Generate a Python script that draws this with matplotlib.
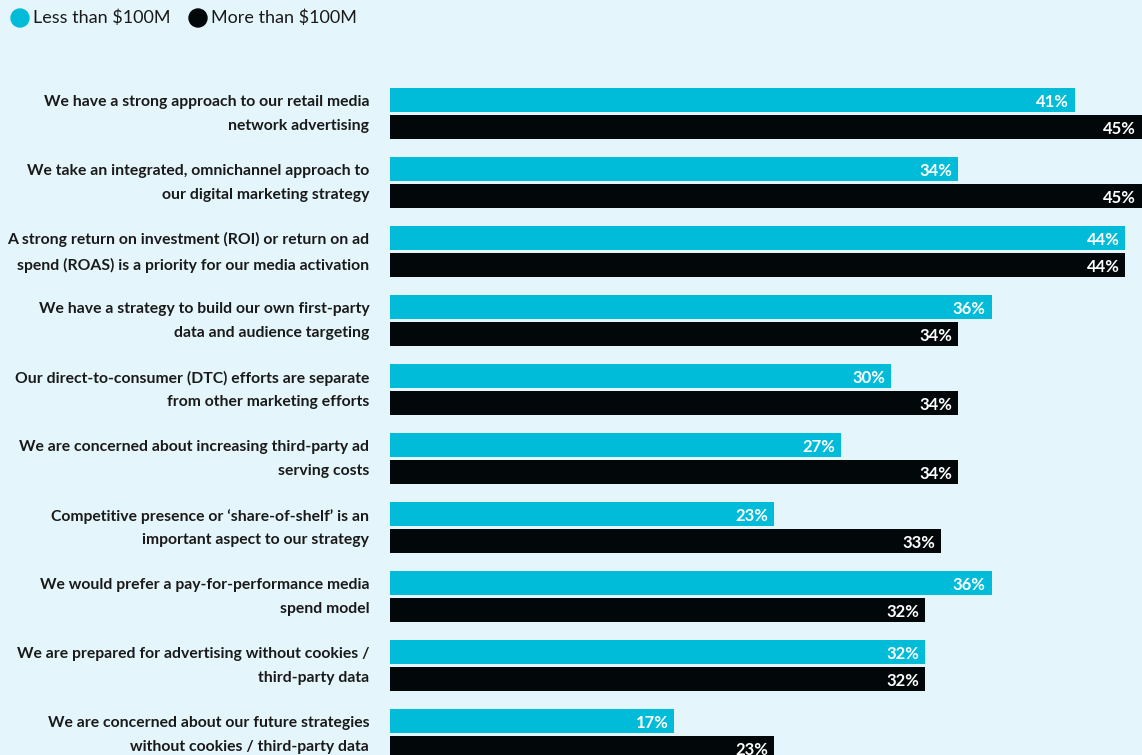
import matplotlib.pyplot as plt
from matplotlib.patches import Ellipse
import numpy as np

statements = [
    "We have a strong approach to our retail media\nnetwork advertising",
    "We take an integrated, omnichannel approach to\nour digital marketing strategy",
    "A strong return on investment (ROI) or return on ad\nspend (ROAS) is a priority for our media activation",
    "We have a strategy to build our own first-party\ndata and audience targeting",
    "Our direct-to-consumer (DTC) efforts are separate\nfrom other marketing efforts",
    "We are concerned about increasing third-party ad\nserving costs",
    "Competitive presence or \u2018share-of-shelf\u2019 is an\nimportant aspect to our strategy",
    "We would prefer a pay-for-performance media\nspend model",
    "We are prepared for advertising without cookies /\nthird-party data",
    "We are concerned about our future strategies\nwithout cookies / third-party data",
]
less_100m = [41, 34, 44, 36, 30, 27, 23, 36, 32, 17]
more_100m = [45, 45, 44, 34, 34, 34, 33, 32, 32, 23]
series_names = ["Less than $100M", "More than $100M"]

BG = "#e4f6fb"
CYAN = "#00bcd8"
BLACK = "#02080a"

plt.rcParams['font.family'] = ['Lato', 'DejaVu Sans']

fig = plt.figure(figsize=(11.42, 7.55), dpi=100, facecolor=BG)
ax = fig.add_axes([390 / 1142, 0, 752 / 1142, 1])
ax.set_facecolor(BG)

y = np.arange(len(statements))
h = 0.348
off = 0.196
b1 = ax.barh(y - off, less_100m, height=h, color=CYAN)
b2 = ax.barh(y + off, more_100m, height=h, color=BLACK)

for bars, vals in ((b1, less_100m), (b2, more_100m)):
    for bar, v in zip(bars, vals):
        ax.text(v - 0.35, bar.get_y() + bar.get_height() / 2 + 0.03, f"{v}%",
                ha='right', va='center', color='white', fontsize=12,
                fontweight='bold')

ax.set_xlim(0, 45)
ax.set_ylim(9.297, -1.645)
ax.set_yticks(y - 0.08)
ax.set_yticklabels(statements, fontsize=11.3, fontweight='bold',
                   color='#1a1a1a', linespacing=1.85, ha='right')
ax.tick_params(axis='y', length=0, pad=15)
ax.set_xticks([])
for s in ax.spines.values():
    s.set_visible(False)

# legend with round markers
legend_x = [20, 198]
for xi, name, col in zip(legend_x, series_names, [CYAN, BLACK]):
    fig.patches.append(Ellipse((xi / 1142, 1 - 18 / 755), 18 / 1142, 18 / 755,
                               transform=fig.transFigure, color=col))
    fig.text((xi + 13) / 1142, 1 - 18 / 755, name, fontsize=13,
             color='#1a1a1a', va='center', ha='left')

fig.savefig("out.png", dpi=100, facecolor=BG)
